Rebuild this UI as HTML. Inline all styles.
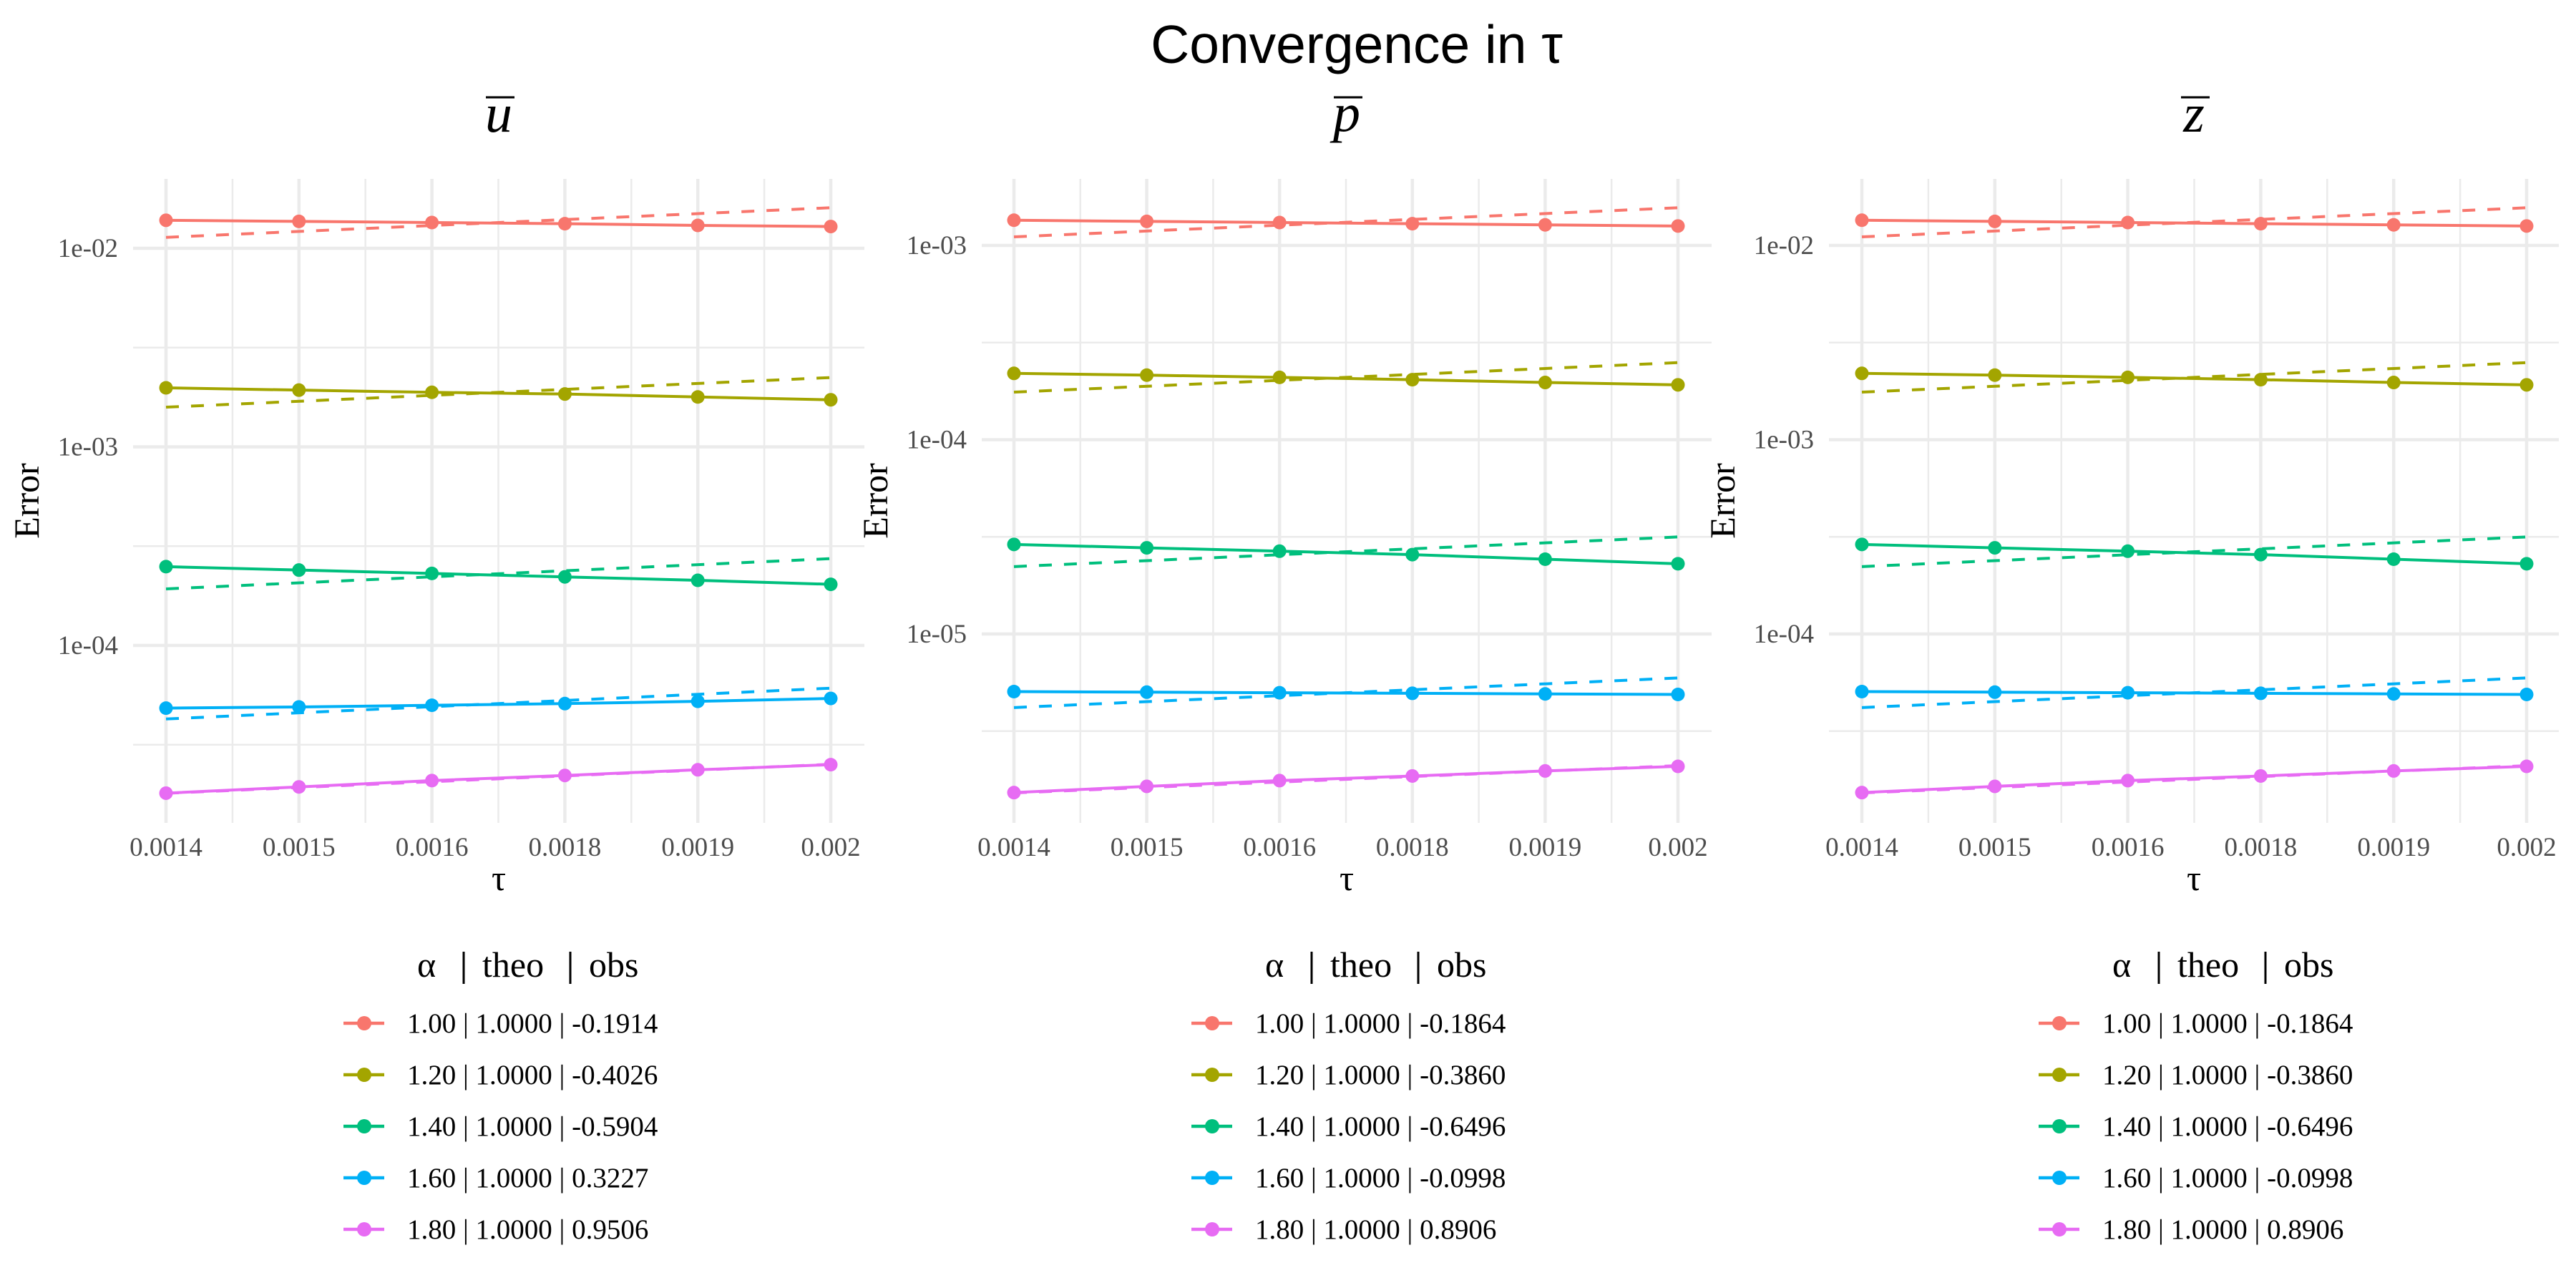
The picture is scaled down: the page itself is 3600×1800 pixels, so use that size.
<!DOCTYPE html>
<html><head><meta charset="utf-8"><title>Convergence in τ</title>
<style>html,body{margin:0;padding:0;background:#fff}svg{display:block}</style></head>
<body>
<svg id="chart" xmlns="http://www.w3.org/2000/svg" width="3600" height="1800" viewBox="0 0 3600 1800">
<rect width="3600" height="1800" fill="#fff"/>
<text x="1896" y="88" text-anchor="middle" font-family="Liberation Sans, sans-serif" font-size="75" fill="#000">Convergence in τ</text>
</svg>
<script>
const tauLabels = ["0.0014","0.0015","0.0016","0.0018","0.0019","0.002"];
const colors = ["#F8766D","#A3A500","#00BF7D","#00B0F6","#E76BF3"];
const alphas = ["1.00","1.20","1.40","1.60","1.80"];
const theo = ["1.0000","1.0000","1.0000","1.0000","1.0000"];
const obsU = ["-0.1914","-0.4026","-0.5904","0.3227","0.9506"];
const obsP = ["-0.1864","-0.3860","-0.6496","-0.0998","0.8906"];
const obsZ = ["-0.1864","-0.3860","-0.6496","-0.0998","0.8906"];
const yTicksU = [1e-2,1e-3,1e-4];
const yTickLabelsU = ["1e-02","1e-03","1e-04"];
const yTicksP = [1e-3,1e-4,1e-5];
const yTickLabelsP = ["1e-03","1e-04","1e-05"];
const yTicksZ = [1e-2,1e-3,1e-4];
const yTickLabelsZ = ["1e-02","1e-03","1e-04"];
const errU_a100 = [0.01384,0.01366,0.01348,0.01330,0.01304,0.01287];
const errU_a120 = [0.001983,0.001931,0.001882,0.001845,0.001784,0.001726];
const errU_a140 = [2.493e-4,2.396e-4,2.304e-4,2.214e-4,2.128e-4,2.031e-4];
const errU_a160 = [4.834e-5,4.899e-5,4.996e-5,5.093e-5,5.230e-5,5.408e-5];
const errU_a180 = [1.803e-5,1.939e-5,2.086e-5,2.214e-5,2.364e-5,2.509e-5];
const refU_start = [0.01135,0.001584,1.926e-4,4.262e-5,1.80e-5];
const refU_end = [0.01601,0.002234,2.736e-4,6.092e-5,2.52e-5];
const errP_a100 = [0.001348,0.001330,0.001312,0.001294,0.001276,0.001259];
const errP_a120 = [2.195e-4,2.150e-4,2.093e-4,2.037e-4,1.970e-4,1.916e-4];
const errP_a140 = [2.891e-5,2.777e-5,2.668e-5,2.562e-5,2.426e-5,2.298e-5];
const errP_a160 = [5.052e-6,5.018e-6,4.984e-6,4.950e-6,4.916e-6,4.883e-6];
const errP_a180 = [1.526e-6,1.643e-6,1.759e-6,1.858e-6,1.972e-6,2.083e-6];
const refP_start = [0.001107,1.757e-4,2.222e-5,4.181e-6,1.52e-6];
const refP_end = [0.001563,2.494e-4,3.159e-5,5.94e-6,2.10e-6];
const errZ_a100 = [0.01348,0.01330,0.01312,0.01294,0.01276,0.01259];
const errZ_a120 = [0.002195,0.002150,0.002093,0.002037,0.001970,0.001916];
const errZ_a140 = [2.891e-4,2.777e-4,2.668e-4,2.562e-4,2.426e-4,2.298e-4];
const errZ_a160 = [5.052e-5,5.018e-5,4.984e-5,4.950e-5,4.916e-5,4.883e-5];
const errZ_a180 = [1.526e-5,1.643e-5,1.759e-5,1.858e-5,1.972e-5,2.083e-5];
const refZ_start = [0.01107,0.001757,2.222e-4,4.181e-5,1.52e-5];
const refZ_end = [0.01563,0.002494,3.159e-4,5.94e-5,2.10e-5];

const NS="http://www.w3.org/2000/svg";
const svg=document.getElementById('chart');
function mk(tag,attrs,parent){const e=document.createElementNS(NS,tag);for(const k in attrs)e.setAttribute(k,attrs[k]);(parent||svg).appendChild(e);return e;}

const panels=[
 {key:"u",sym:"u",x0:232,x1:1161,left:186,right:1208,topLog:-1.6505,botLog:-4.8865,ticks:yTicksU,tickLabels:yTickLabelsU,series:[errU_a100,errU_a120,errU_a140,errU_a160,errU_a180],rs:refU_start,re:refU_end,obs:obsU,errX:40},
 {key:"p",sym:"p",x0:1417,x1:2345,left:1372,right:2392,topLog:-2.6575,botLog:-5.965,ticks:yTicksP,tickLabels:yTickLabelsP,series:[errP_a100,errP_a120,errP_a140,errP_a160,errP_a180],rs:refP_start,re:refP_end,obs:obsP,errX:1226},
 {key:"z",sym:"z",x0:2602,x1:3531,left:2556,right:3576,topLog:-1.6575,botLog:-4.965,ticks:yTicksZ,tickLabels:yTickLabelsZ,series:[errZ_a100,errZ_a120,errZ_a140,errZ_a160,errZ_a180],rs:refZ_start,re:refZ_end,obs:obsZ,errX:2410}
];
const TOP=250,BOT=1148;

panels.forEach(P=>{
 const g=mk('g',{});
 
 
 const n=tauLabels.length;
 const xs=i=>P.x0+(P.x1-P.x0)*i/(n-1);
 const ys=v=>TOP+(P.topLog-Math.log10(v))/(P.topLog-P.botLog)*(BOT-TOP);
 for(let d=Math.ceil(P.botLog);d<=Math.floor(P.topLog)+1;d++){
  const lv=d-0.5;
  if(lv<P.topLog&&lv>P.botLog){const y=ys(Math.pow(10,lv));
   const l=mk('line',{x1:P.left,x2:P.right,y1:y,y2:y,stroke:'#ebebeb','stroke-width':2.5},g);
   
   }
 }
 for(let i=0;i<n-1;i++){const x=xs(i+0.5);
  const l=mk('line',{x1:x,x2:x,y1:TOP,y2:BOT+2,stroke:'#ebebeb','stroke-width':2.5},g);
  
  }
 P.ticks.forEach((t,i)=>{const y=ys(t);
  const l=mk('line',{x1:P.left,x2:P.right,y1:y,y2:y,stroke:'#ebebeb','stroke-width':4.5},g);
  
  
  const tx=mk('text',{x:P.left-21,y:y+12,'text-anchor':'end','font-family':'Liberation Serif, serif','font-size':37,fill:'#4d4d4d'},g);
  tx.textContent=P.tickLabels[i];
  
  });
 tauLabels.forEach((lab,i)=>{const x=xs(i);
  const l=mk('line',{x1:x,x2:x,y1:TOP,y2:BOT+2,stroke:'#ebebeb','stroke-width':4.5},g);
  
  
  const tx=mk('text',{x:x,y:1196,'text-anchor':'middle','font-family':'Liberation Serif, serif','font-size':37,fill:'#4d4d4d'},g);
  tx.textContent=lab;
  
  });
 const cx=(P.left+P.right)/2;
 const xt=mk('text',{x:cx,y:1244,'text-anchor':'middle','font-family':'Liberation Serif, serif','font-size':50,fill:'#000'},g);
 xt.textContent='τ';
 
 
 const yt=mk('text',{x:0,y:0,'text-anchor':'middle','font-family':'Liberation Serif, serif','font-size':50,fill:'#000',transform:`translate(${P.errX+14},700) rotate(-90)`},g);
 yt.textContent='Error';
 
 
 const pt=mk('text',{x:cx,y:P.key==='p'?183:184,'text-anchor':'middle','font-family':'Liberation Serif, serif','font-style':'italic','font-size':76,fill:'#000'},g);
 pt.textContent=P.sym;
 
 
 const ob=mk('line',{x1:cx-18,x2:cx+22,y1:136,y2:136,stroke:'#000','stroke-width':3},g);
 
 
 P.series.forEach((vals,si)=>{
  const c=colors[si];
  const d=mk('line',{x1:xs(0),x2:xs(n-1),y1:ys(P.rs[si]),y2:ys(P.re[si]),stroke:c,'stroke-width':4,'stroke-dasharray':'18,17'},g);
  
  
  const pts=vals.map((v,i)=>xs(i)+','+ys(v)).join(' ');
  const pl=mk('polyline',{points:pts,fill:'none',stroke:c,'stroke-width':4},g);
  
  
  vals.forEach((v,i)=>{const ci=mk('circle',{cx:xs(i),cy:ys(v),r:9.5,fill:c},g);
   
   });
 });
 const lg=mk('g',{},g);
 
 
 const h1=mk('text',{x:cx-114,y:1365,'font-family':'Liberation Serif, serif','font-size':50,fill:'#000'},lg);
 h1.textContent='α';
 
 
 const h2=mk('text',{x:cx-23,y:1365,'font-family':'Liberation Serif, serif','font-size':50,fill:'#000'},lg);
 h2.textContent='theo';
 
 
 const h3=mk('text',{x:cx+126,y:1365,'font-family':'Liberation Serif, serif','font-size':50,fill:'#000'},lg);
 h3.textContent='obs';
 
 
 [cx-49,cx+100].forEach(bx=>{const b=mk('line',{x1:bx,x2:bx,y1:1330,y2:1375,stroke:'#000','stroke-width':3},lg);
  
  });
 alphas.forEach((a,si)=>{
  const ry=1430+si*72;
  const e=mk('g',{},lg);
  
  
  mk('line',{x1:cx-217,x2:cx-160,y1:ry,y2:ry,stroke:colors[si],'stroke-width':4.5},e);
  mk('circle',{cx:cx-188,cy:ry,r:10,fill:colors[si]},e);
  const t=mk('text',{x:cx-128,y:ry+13,'font-family':'Liberation Serif, serif','font-size':39,fill:'#000'},e);
  t.textContent=a+' | '+theo[si]+' | '+P.obs[si];
 });
});
</script>
</body></html>
